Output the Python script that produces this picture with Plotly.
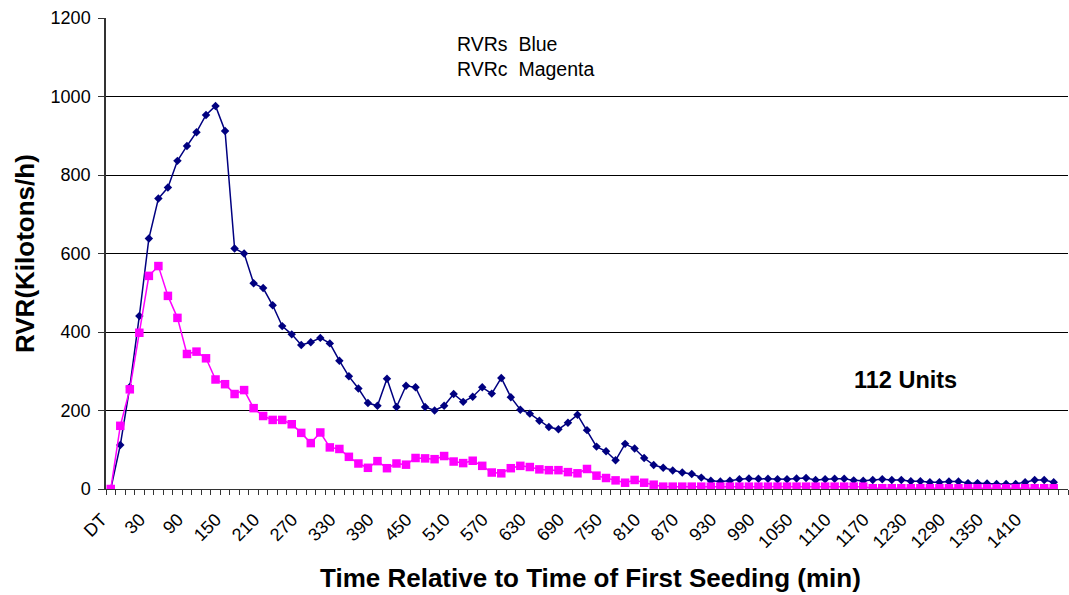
import plotly.graph_objects as go

# Category labels: DT then time steps of 15 min
categories = ["DT"] + [str(t) for t in range(-15, 1471, 15)]
label_every = 4

rvrs_blue = [0, 112, 260, 441, 638, 740, 768, 836, 874, 909,
             953, 976, 912, 613, 600, 524, 512, 468, 415, 394,
             367, 374, 385, 371, 327, 287, 256, 219, 212, 281,
             209, 263, 259, 209, 200, 212, 242, 222, 235, 259,
             243, 283, 234, 202, 192, 174, 158, 152, 169, 189,
             150, 108, 96, 73, 115, 103, 79, 61, 54, 47,
             42, 38, 29, 21, 19, 21, 25, 27, 26, 26,
             25, 25, 27, 28, 23, 25, 26, 26, 22, 21,
             23, 25, 23, 23, 20, 20, 17, 17, 19, 19,
             15, 15, 14, 13, 13, 13, 17, 23, 23, 17]

rvrc_magenta = [0, 161, 254, 398, 543, 568, 492, 436, 344, 350,
                333, 279, 267, 242, 252, 206, 186, 176, 176, 165,
                143, 117, 144, 106, 102, 82, 65, 54, 71, 53,
                65, 62, 79, 78, 76, 84, 70, 66, 72, 59,
                42, 40, 53, 59, 56, 50, 48, 48, 43, 40,
                51, 34, 28, 22, 16, 23, 16, 11, 6, 6,
                6, 6, 6, 6, 6, 6, 6, 6, 6, 6,
                6, 6, 6, 6, 6, 6, 6, 6, 6, 6,
                2, 2, 2, 2, 2, 2, 2, 2, 2, 2,
                2, 2, 2, 2, 2, 2, 2, 2, 2, 2]

x_vals = categories[:len(rvrs_blue)]
tick_text = [c if (i % label_every == 0 and i < len(rvrs_blue)) else ""
             for i, c in enumerate(categories)]

FONT = "Liberation Sans, Arial, sans-serif"

fig = go.Figure()
fig.add_trace(go.Scatter(
    x=x_vals, y=rvrs_blue, mode="lines+markers", name="RVRs",
    line=dict(color="#000080", width=1.5),
    marker=dict(symbol="diamond", size=6.5, color="#000080"),
))
fig.add_trace(go.Scatter(
    x=x_vals, y=rvrc_magenta, mode="lines+markers", name="RVRc",
    line=dict(color="#FF00FF", width=1.5),
    marker=dict(symbol="square", size=8.5, color="#FF00FF"),
))

fig.update_layout(
    width=1069, height=595,
    margin=dict(l=106, r=1, t=18, b=106),
    plot_bgcolor="white", paper_bgcolor="white",
    showlegend=False,
    font=dict(family=FONT, color="black"),
)
fig.update_xaxes(
    type="category", categoryorder="array", categoryarray=categories,
    range=[-0.5, len(categories) - 0.5],
    tickmode="array", tickvals=categories, ticktext=tick_text,
    tickson="boundaries", ticks="outside", ticklen=5, tickcolor="#333333",
    tickangle=-45, tickfont=dict(size=18, family=FONT, color="black"),
    ticklabelstandoff=12, ticklabelshift=-9,
    showline=True, linecolor="#333333", linewidth=1,
    showgrid=False, zeroline=False,
)
fig.update_yaxes(
    range=[0, 1200], dtick=200, tick0=0,
    ticks="outside", ticklen=6, tickcolor="#333333",
    tickfont=dict(size=18, family=FONT, color="black"),
    ticklabelstandoff=4,
    showline=True, linecolor="#333333", linewidth=1.5,
    showgrid=True, gridcolor="#000000", gridwidth=1,
    zeroline=False,
)

fig.add_annotation(
    xref="paper", yref="paper", x=0.3628, y=0.972, xanchor="left", yanchor="top",
    text="RVRs&nbsp; Blue<br>RVRc&nbsp; Magenta", align="left", showarrow=False,
    font=dict(size=19.5, family=FONT, color="black"),
)
fig.add_annotation(
    xref="paper", yref="paper", x=0.8316, y=0.2314, xanchor="center", yanchor="middle",
    text="<b>112 Units</b>", showarrow=False,
    font=dict(size=23.5, family=FONT, color="black"),
)
fig.add_annotation(
    xref="paper", yref="paper", x=0.504, y=-0.189, xanchor="center", yanchor="middle",
    text="<b>Time Relative to Time of First Seeding (min)</b>", showarrow=False,
    font=dict(size=26, family=FONT, color="black"),
)
fig.add_annotation(
    xref="paper", yref="paper", x=-0.0842, y=0.501, xanchor="center", yanchor="middle",
    text="<b>RVR(Kilotons/h)</b>", textangle=-90, showarrow=False,
    font=dict(size=26, family=FONT, color="black"),
)

fig.write_html("out.html")
